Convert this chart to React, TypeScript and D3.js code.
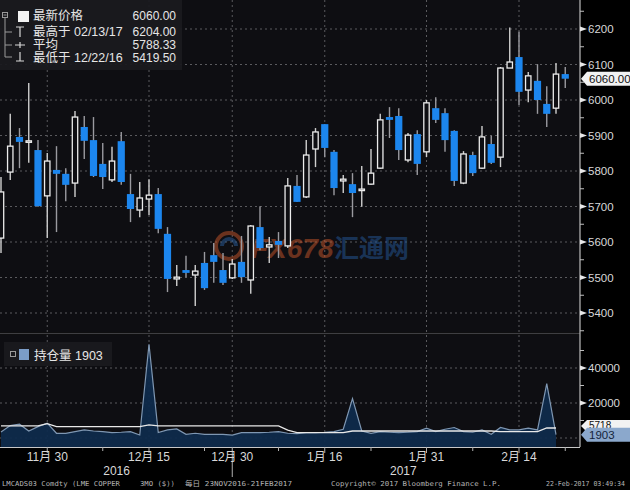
import React from 'react';
import * as d3 from 'd3';

const tradingDays = [
  '2016-11-23','2016-11-24','2016-11-25','2016-11-28','2016-11-29','2016-11-30',
  '2016-12-01','2016-12-02','2016-12-05','2016-12-06','2016-12-07','2016-12-08','2016-12-09',
  '2016-12-12','2016-12-13','2016-12-14','2016-12-15','2016-12-16','2016-12-19','2016-12-20',
  '2016-12-21','2016-12-22','2016-12-23','2016-12-28','2016-12-29','2016-12-30',
  '2017-01-03','2017-01-04','2017-01-05','2017-01-06','2017-01-09','2017-01-10','2017-01-11',
  '2017-01-12','2017-01-13','2017-01-16','2017-01-17','2017-01-18','2017-01-19','2017-01-20',
  '2017-01-23','2017-01-24','2017-01-25','2017-01-26','2017-01-27','2017-01-30','2017-01-31',
  '2017-02-01','2017-02-02','2017-02-03','2017-02-06','2017-02-07','2017-02-08','2017-02-09',
  '2017-02-10','2017-02-13','2017-02-14','2017-02-15','2017-02-16','2017-02-17','2017-02-20','2017-02-21',
];
const openPrices = [
  5611,5797,5896,5882,5859,5730,5803,5792,5766,5924,5887,5820,5775,5884,5735,5690,5721,5735,5623,5496,
  5521,5507,5541,5563,5521,5499,5544,5493,5642,5586,5603,5589,5758,5727,5862,5932,5854,5772,5763,5746,
  5763,5808,5952,5955,5831,5904,5854,5977,5963,5913,5766,5845,5808,5876,5839,6090,6121,6028,6054,5989,
  5977,6073,
];
const highPrices = [
  5783,5961,5921,6048,5887,5851,5870,5808,5969,5955,5952,5879,5868,5910,5792,5769,5777,5752,5642,5535,
  5561,5535,5572,5597,5569,5552,5617,5648,5701,5614,5628,5780,5789,5887,5921,5932,5859,5789,5794,5814,
  5862,5961,5980,5977,5907,5915,6000,6008,5977,5915,5856,5854,5927,5899,6093,6204,6192,6079,6101,6039,
  6104,6093,
];
const lowPrices = [
  5569,5775,5808,5823,5699,5611,5628,5715,5727,5834,5783,5749,5769,5761,5656,5670,5676,5625,5459,5476,
  5501,5419.5,5465,5485,5479,5496,5485,5454,5577,5541,5555,5583,5713,5724,5811,5839,5732,5738,5670,5699,
  5761,5806,5893,5831,5825,5789,5839,5935,5854,5758,5763,5786,5806,5820,5811,6090,5986,5994,5961,5924,
  5961,6034,
];
const closePrices = [
  5741,5870,5882,5885,5701,5828,5792,5761,5952,5885,5786,5783,5828,5769,5693,5724,5732,5637,5496,5501,
  5513,5518,5470,5544,5485,5538,5501,5645,5583,5592,5592,5758,5713,5845,5910,5865,5752,5777,5738,5749,
  5794,5944,5944,5859,5901,5820,5992,5944,5887,5772,5848,5794,5896,5823,6090,6107,6023,6068,6000,5961,
  6073,6060,
];
const openInterest = [
  3460,7100,7900,4000,6500,8500,2700,2700,3650,4600,4000,3650,3100,3300,3650,1700,53600,3100,4600,5200,
  2100,2700,2100,2100,2100,1700,3100,3100,3100,3300,3650,2700,2500,3100,3100,3300,3650,5000,22500,4000,
  2700,3650,3300,3100,3300,3650,5600,3650,5000,6000,3650,3300,4600,2100,6000,4600,4600,5600,4600,31100,
  1903,
];
const oiAverage = [
  6900,6900,6900,6900,6900,8250,6500,6500,6500,6500,6500,6500,6500,6500,6500,6500,7500,6900,6900,6900,
  6900,6900,6900,6900,6900,6900,6900,6900,6900,6900,6900,4500,3100,3100,3100,3100,3100,3100,4000,4000,
  4000,4000,4000,4000,4000,4000,4000,4000,4000,4000,4000,4000,4000,4000,3650,3650,3650,3650,3650,5718,
  5718,
];
const priceTicks = [5400, 5500, 5600, 5700, 5800, 5900, 6000, 6100, 6200];
const priceMinorTicks = [5350, 5450, 5550, 5650, 5750, 5850, 5950, 6050, 6150, 6250];
const oiTicks = [20000, 40000];
const oiMinorTicks = [10000, 30000, 50000];
const dateTickDays = ['2016-11-30','2016-12-15','2016-12-30','2017-01-16','2017-01-31','2017-02-14'];
const dateTickLabels = ['11月 30','12月 15','12月 30','1月 16','1月 31','2月 14'];
const minorDateDays = ['2016-12-08','2016-12-23','2017-01-09','2017-01-23','2017-02-07','2017-02-21'];
const yearLabels = ['2016', '2017'];
const legendNames = ['最新价格', '最高于 02/13/17', '平均', '最低于 12/22/16'];
const legendValues = ['6060.00', '6204.00', '5788.33', '5419.50'];
const oiLegendName = '持仓量';
const footerTexts = ['LMCADS03 Comdty (LME COPPER', '3MO ($))', '每日 23NOV2016-21FEB2017', 'Copyright© 2017 Bloomberg Finance L.P.', '22-Feb-2017 03:49:34'];

const FONT = "'Liberation Sans', Arial, 'Noto Sans CJK SC', sans-serif";
const CJK = "'Liberation Sans', 'Noto Sans CJK SC', sans-serif";
const PLOT_BG = '#0e0e12';
const BLUE = '#1c86ee';

export default function App() {
  const W = 630, H = 490;
  const plotRight = 580;
  const mainTop = 0, mainBottom = 332;
  const lowTop = 335, lowBottom = 447;

  const x = d3.scalePoint<string>().domain(tradingDays).range([1, 565.25]);
  const y = d3.scaleLinear().domain([5400, 6200]).range([313, 29]);
  const yOI = d3.scaleLinear().domain([0, 40000]).range([438, 368]);

  const oiIdx = openInterest.map((_, i) => i);
  const area = d3.area<number>()
    .x(i => x(tradingDays[i])!)
    .y0(lowBottom)
    .y1(i => yOI(openInterest[i]));
  const oiLine = d3.line<number>()
    .x(i => x(tradingDays[i])!)
    .y(i => yOI(openInterest[i]));
  const avgLine = d3.line<number>()
    .x(i => x(tradingDays[i])!)
    .y(i => yOI(oiAverage[i]));

  const lastClose = closePrices[closePrices.length - 1];
  const lastOI = openInterest[openInterest.length - 1];
  const lastAvg = oiAverage[oiAverage.length - 1];

  const year2016 = tradingDays.filter(d => d.startsWith('2016'));
  const year2017 = tradingDays.filter(d => d.startsWith('2017'));
  const yearCenters = [
    (x(year2016[0])! + x(year2016[year2016.length - 1])!) / 2,
    (x(year2017[0])! + x(year2017[year2017.length - 1])!) / 2,
  ];

  const tagPath = (yc: number, h: number) =>
    `M${plotRight + 1},${yc} L${plotRight + 7},${yc - h / 2} L${W},${yc - h / 2} L${W},${yc + h / 2} L${plotRight + 7},${yc + h / 2} Z`;

  const rowBase = [20, 36, 49, 62];

  return (
    <svg width={W} height={H} style={{ position: 'absolute', left: 0, top: 0, background: '#000' }} fontFamily={FONT}>
      <defs>
        <clipPath id="mainClip"><rect x={0} y={mainTop} width={plotRight} height={mainBottom - mainTop} /></clipPath>
        <clipPath id="lowClip"><rect x={0} y={lowTop} width={plotRight} height={lowBottom - lowTop} /></clipPath>
      </defs>
      <rect x={0} y={0} width={W} height={H} fill="#000" />
      <rect x={0} y={mainTop} width={plotRight} height={mainBottom - mainTop} fill={PLOT_BG} />
      <rect x={0} y={lowTop} width={plotRight} height={lowBottom - lowTop} fill={PLOT_BG} />
      <line x1={0} x2={plotRight} y1={333.5} y2={333.5} stroke="#3e3e42" strokeWidth={1.5} />

      {/* main grid */}
      {priceTicks.map(t => (
        <line key={'hg' + t} x1={0} x2={plotRight} y1={y(t)} y2={y(t)} stroke="#5a5a5e" strokeDasharray="2,3" strokeWidth={1} />
      ))}
      {dateTickDays.map(d => (
        <line key={'vg' + d} x1={x(d)} x2={x(d)} y1={mainTop} y2={mainBottom} stroke="#5a5a5e" strokeDasharray="2,3" strokeWidth={1} />
      ))}

      {/* watermark */}
      <g opacity={0.5}>
        <circle cx={229} cy={246} r={13} fill="none" stroke="#c8562a" strokeWidth={4} />
        <path d="M 222 246 A 7 7 0 1 1 236 246" fill="none" stroke="#2a5f9e" strokeWidth={4} />
        <text x={251} y={258} fontSize={28} fontWeight="bold" fontStyle="italic" fill="#c8562a" fontFamily={FONT}>FX678</text>
        <text x={334} y={257} fontSize={25} fontWeight="bold" fill="#24589a" fontFamily={CJK}>汇通网</text>
      </g>

      {/* candles */}
      <g clipPath="url(#mainClip)">
        {tradingDays.map((d, i) => {
          const o = openPrices[i], c = closePrices[i], h = highPrices[i], l = lowPrices[i];
          const up = c >= o;
          const cx = x(d)!;
          const top = y(Math.max(o, c)), bot = y(Math.min(o, c));
          const bh = Math.max(bot - top, 1.5);
          return (
            <g key={d}>
              <line x1={cx} x2={cx} y1={y(h)} y2={y(l)} stroke={up ? '#cfcfcf' : '#9a9aa0'} strokeWidth={1.4} />
              {up ? (
                <rect x={cx - 2.7} y={top} width={5.4} height={bh} fill={PLOT_BG} stroke="#ececec" strokeWidth={1.3} />
              ) : (
                <rect x={cx - 3.6} y={top} width={7.2} height={bh} fill={BLUE} />
              )}
            </g>
          );
        })}
      </g>

      {/* main legend */}
      <rect x={0} y={0} width={182} height={70} fill="#1a1a1f" opacity={0.95} />
      <rect x={2.5} y={12.5} width={5} height={5} fill="none" stroke="#9a9a9a" strokeWidth={1} />
      <line x1={3.5} x2={6.5} y1={15} y2={15} stroke="#9a9a9a" />
      <path d="M5,18 V57 M5,32 H12 M5,45 H12 M5,57 H12" fill="none" stroke="#9a9a9a" strokeWidth={1} />
      <rect x={18} y={11} width={11} height={11} fill="#f2f2f2" />
      <path d="M16,27 H24 M20,27 V37" fill="none" stroke="#d8d8d8" strokeWidth={1.2} />
      <path d="M15,45 H25 M20,42 V48" fill="none" stroke="#d8d8d8" strokeWidth={1.2} />
      <path d="M20,52 V61 M16,61 H24" fill="none" stroke="#d8d8d8" strokeWidth={1.2} />
      {legendNames.map((n, i) => (
        <text key={n} x={33} y={rowBase[i]} fontSize={12.5} fill="#e6e6e6" fontFamily={CJK}>{n}</text>
      ))}
      {legendValues.map((v, i) => (
        <text key={'v' + i} x={176} y={rowBase[i]} fontSize={12} fill="#e6e6e6" textAnchor="end">{v}</text>
      ))}

      {/* lower panel grid */}
      {oiTicks.map(t => (
        <line key={'og' + t} x1={0} x2={plotRight} y1={yOI(t)} y2={yOI(t)} stroke="#5a5a5e" strokeDasharray="2,3" />
      ))}
      <line x1={0} x2={plotRight} y1={yOI(0)} y2={yOI(0)} stroke="#5a5a5e" strokeDasharray="2,3" />
      {dateTickDays.map(d => (
        <line key={'lvg' + d} x1={x(d)} x2={x(d)} y1={lowTop} y2={lowBottom} stroke="#5a5a5e" strokeDasharray="2,3" />
      ))}

      {/* open interest */}
      <g clipPath="url(#lowClip)">
        <path d={area(oiIdx)!} fill="#0f2b4c" opacity={0.95} />
        <path d={oiLine(oiIdx)!} fill="none" stroke="#7f97b2" strokeWidth={1.2} />
        <path d={avgLine(oiIdx)!} fill="none" stroke="#e8e8e8" strokeWidth={1.3} />
      </g>

      {/* lower legend */}
      <rect x={4} y={342} width={108} height={24} fill="#1a1a1f" opacity={0.95} />
      <rect x={10.5} y={351.5} width={5} height={5} fill="none" stroke="#9a9a9a" />
      <rect x={19} y={349} width={10} height={11} fill="#7b9dc8" />
      <text x={34} y={360} fontSize={12.5} fill="#e6e6e6" fontFamily={CJK}>{oiLegendName} {lastOI}</text>

      {/* right axis */}
      <line x1={plotRight} x2={plotRight} y1={0} y2={lowBottom} stroke="#bdbdbd" strokeWidth={1.2} />
      {priceMinorTicks.map(t => (
        <line key={'pm' + t} x1={plotRight} x2={plotRight + 4} y1={y(t)} y2={y(t)} stroke="#bdbdbd" />
      ))}
      {priceTicks.map(t => (
        <g key={'pt' + t}>
          <path d={`M${plotRight},${y(t) - 2.5} L${plotRight + 7},${y(t)} L${plotRight},${y(t) + 2.5} Z`} fill="#e8e8e8" />
          <text x={588} y={y(t) + 4} fontSize={11.5} fill="#d8d8d8">{t}</text>
        </g>
      ))}
      <path d={tagPath(y(lastClose), 14)} fill="#f2f2f2" />
      <text x={589} y={y(lastClose) + 4} fontSize={11.5} fill="#111">{lastClose.toFixed(2)}</text>

      {oiMinorTicks.map(t => (
        <line key={'om' + t} x1={plotRight} x2={plotRight + 4} y1={yOI(t)} y2={yOI(t)} stroke="#bdbdbd" />
      ))}
      {oiTicks.map(t => (
        <g key={'ot' + t}>
          <path d={`M${plotRight},${yOI(t) - 2.5} L${plotRight + 7},${yOI(t)} L${plotRight},${yOI(t) + 2.5} Z`} fill="#e8e8e8" />
          <text x={588} y={yOI(t) + 4} fontSize={11.5} fill="#d8d8d8">{t}</text>
        </g>
      ))}
      <path d={tagPath(yOI(lastAvg) - 2, 12)} fill="#f2f2f2" />
      <text x={589} y={yOI(lastAvg) + 1} fontSize={10} fill="#111">{lastAvg}</text>
      <path d={tagPath(yOI(lastOI), 14)} fill="#8ba8cc" />
      <text x={589} y={yOI(lastOI) + 4} fontSize={11.5} fill="#14243a">{lastOI}</text>

      {/* bottom axis */}
      <line x1={0} x2={plotRight} y1={lowBottom + 0.5} y2={lowBottom + 0.5} stroke="#c8c8c8" strokeWidth={1.2} />
      {dateTickDays.map((d, i) => (
        <g key={'dt' + d}>
          <line x1={x(d)} x2={x(d)} y1={lowBottom} y2={d === '2016-12-30' ? 477 : 453} stroke="#b0b0b0" />
          <text x={x(d)} y={461} fontSize={12} fill="#d8d8d8" textAnchor="middle" fontFamily={CJK}>{dateTickLabels[i]}</text>
        </g>
      ))}
      {minorDateDays.map(d => (
        <line key={'md' + d} x1={x(d)} x2={x(d)} y1={lowBottom} y2={451} stroke="#b0b0b0" />
      ))}
      {yearLabels.map((yl, i) => (
        <text key={yl} x={yearCenters[i]} y={475} fontSize={12} fill="#d8d8d8" textAnchor="middle">{yl}</text>
      ))}

      {/* footer */}
      <g fontSize={6.8} fill="#b4b4b4" fontFamily="'DejaVu Sans Mono', 'Noto Sans CJK SC', monospace">
        <text x={2} y={486} textLength={118} lengthAdjust="spacingAndGlyphs">{footerTexts[0]}</text>
        <text x={140} y={486} textLength={35} lengthAdjust="spacingAndGlyphs">{footerTexts[1]}</text>
        <text x={185} y={486} textLength={107} lengthAdjust="spacingAndGlyphs">{footerTexts[2]}</text>
        <text x={331} y={486} textLength={170} lengthAdjust="spacingAndGlyphs">{footerTexts[3]}</text>
        <text x={546} y={486} textLength={79} lengthAdjust="spacingAndGlyphs">{footerTexts[4]}</text>
      </g>
    </svg>
  );
}
